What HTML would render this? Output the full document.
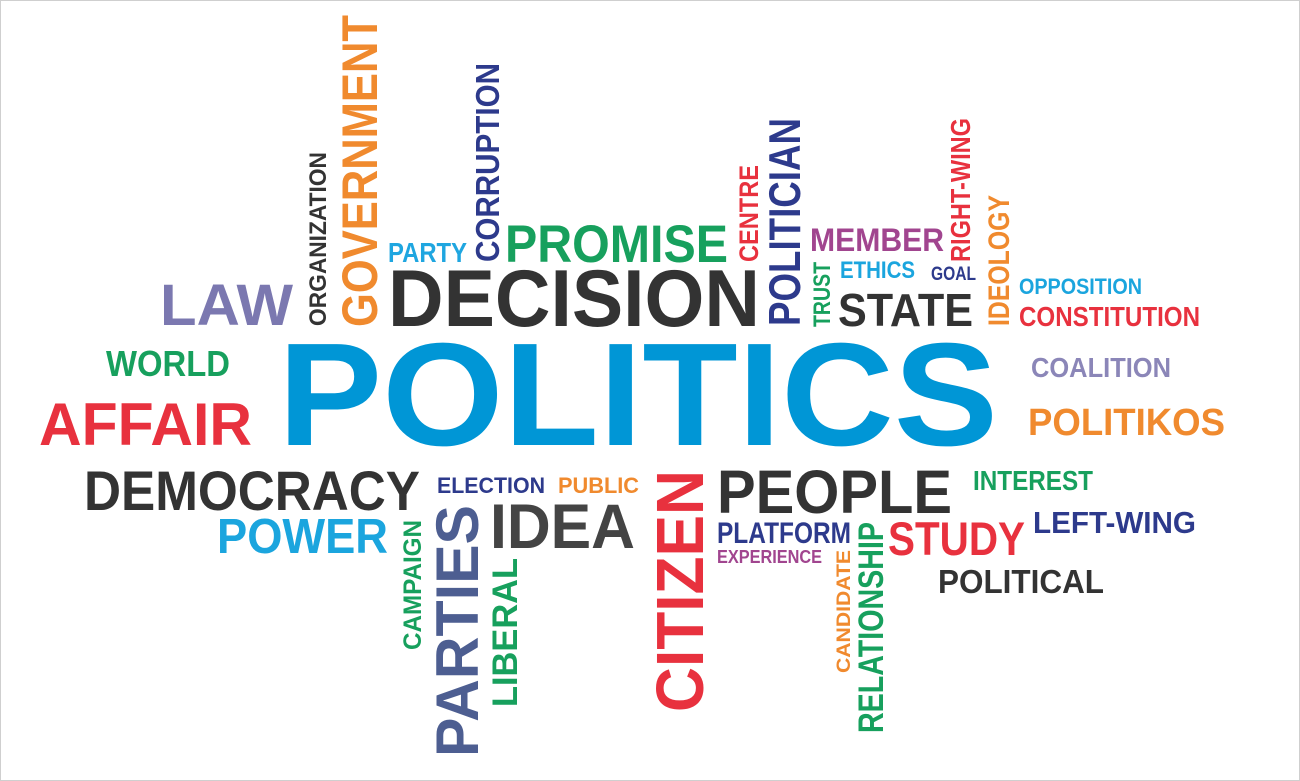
<!DOCTYPE html>
<html><head><meta charset="utf-8"><style>
html,body{margin:0;padding:0;background:#fff;}
svg{display:block;}
text{font-family:"Liberation Sans",Arial,sans-serif;font-weight:bold;}
</style></head><body>
<svg id="cloud" width="1300" height="781" viewBox="0 0 1300 781">
<rect x="0.5" y="0.5" width="1299" height="780" fill="#fff" stroke="#cfcfcf"/>
<g id="words"></g>
</svg>
<script>
// [text, x1, y1, x2, y2, color, vertical]
const words = [
["POLITICS",278,340,998,445,"#0096d6",0],
["LAW",160,283,293,325,"#7b78b0",0],
["DECISION",388,268,760,326,"#333333",0],
["PROMISE",505,224,728,262,"#17a05d",0],
["PARTY",388,242,467,262,"#1fa6e0",0],
["MEMBER",810,228,944,251,"#a1458f",0],
["ETHICS",840,261,915,278,"#1ba5de",0],
["GOAL",931,266,976,280,"#2d3a8c",0],
["STATE",838,293,973,326,"#333333",0],
["OPPOSITION",1019,278,1142,294,"#1ba5de",0],
["CONSTITUTION",1019,306,1200,326,"#e8313e",0],
["WORLD",106,350,230,376,"#17a05d",0],
["COALITION",1031,357,1171,377,"#8b86b8",0],
["AFFAIR",39,402,252,445,"#e8313e",0],
["POLITIKOS",1028,408,1225,435,"#f08a2e",0],
["DEMOCRACY",84,470,420,510,"#333333",0],
["ELECTION",437,477,545,493,"#2d3a8c",0],
["PUBLIC",558,477,639,493,"#f08a2e",0],
["PEOPLE",717,469,952,513,"#333333",0],
["INTEREST",973,470,1093,490,"#17a05d",0],
["POWER",217,518,388,553,"#1ba5de",0],
["IDEA",490,503,635,548,"#444444",0],
["PLATFORM",717,522,851,543,"#2d3a8c",0],
["EXPERIENCE",717,550,822,563,"#a1458f",0],
["STUDY",888,521,1025,555,"#e8313e",0],
["LEFT-WING",1033,511,1196,533,"#2d3a8c",0],
["POLITICAL",938,569,1104,593,"#333333",0],
["ORGANIZATION",309,152,326,326,"#333333",1],
["GOVERNMENT",341,15,377,327,"#f08a2e",1],
["CORRUPTION",475,63,499,262,"#2d3a8c",1],
["CENTRE",739,165,758,262,"#e8313e",1],
["POLITICIAN",768,118,800,326,"#2d3a8c",1],
["TRUST",813,262,830,327,"#17a05d",1],
["RIGHT-WING",950,118,970,262,"#e8313e",1],
["IDEOLOGY",988,195,1009,326,"#f08a2e",1],
["CAMPAIGN",403,520,421,650,"#17a05d",1],
["PARTIES",435,505,478,757,"#4d5e91",1],
["LIBERAL",492,558,517,707,"#17a05d",1],
["CITIZEN",655,470,703,712,"#e8313e",1],
["CANDIDATE",836,550,850,673,"#f08a2e",1],
["RELATIONSHIP",858,522,883,733,"#17a05d",1]
];
const g = document.getElementById('words');
const NS = "http://www.w3.org/2000/svg";
words.forEach(w => {
  const [txt,x1,y1,x2,y2,col,v] = w;
  const t = document.createElementNS(NS,'text');
  const cap = v ? (x2-x1) : (y2-y1);
  const len = v ? (y2-y1) : (x2-x1);
  t.setAttribute('font-size', (cap/0.716).toFixed(1));
  t.setAttribute('fill', col);
  t.setAttribute('textLength', len);
  t.setAttribute('lengthAdjust', 'spacingAndGlyphs');
  if (v) {
    t.setAttribute('transform', `translate(${x2},${y2}) rotate(-90)`);
  } else {
    t.setAttribute('x', x1);
    t.setAttribute('y', y2);
  }
  t.textContent = txt;
  
  
  g.appendChild(t);
});
</script>
</body></html>
